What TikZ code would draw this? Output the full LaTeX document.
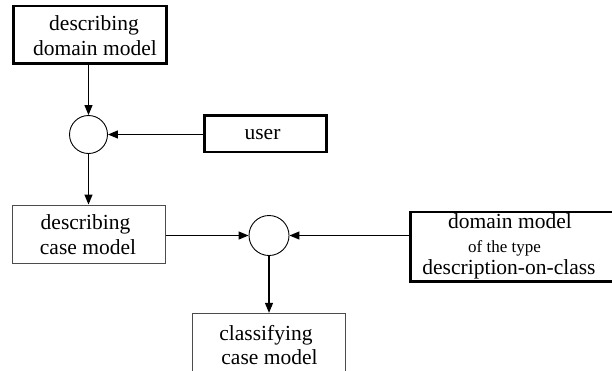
\documentclass[tikz,border=0pt]{standalone}
\usepackage{fontspec}
\setmainfont{Liberation Serif}
\usetikzlibrary{arrows.meta}
\begin{document}
\begin{tikzpicture}[x=1pt,y=-1pt,
  boxthick/.style={draw, line width=2.6pt, inner sep=0pt},
  boxthin/.style={draw=black!70, line width=0.9pt, inner sep=0pt},
  junction/.style={draw, circle, line width=0.9pt, inner sep=0pt},
  lbl/.style={anchor=base, inner sep=0pt, font=\fontsize{21.5}{25}\selectfont},
  lblsmall/.style={anchor=base, inner sep=0pt, font=\fontsize{17}{19}\selectfont},
  flow/.style={line width=1.2pt, -{Triangle[length=10pt,width=8pt]}}]
\useasboundingbox (0,0) rectangle (612,370);
\clip (0,0) rectangle (612,370);

% boxes
\node[boxthick, minimum width=153pt, minimum height=57.5pt] (topbox) at (90,34.75) {};
\node[boxthick, minimum width=122pt, minimum height=36.5pt] (userbox) at (265.5,133.75) {};
\node[boxthin, minimum width=153.4pt, minimum height=58pt] (casebox) at (89,234) {};
\node[boxthick, minimum width=230pt, minimum height=69.3pt] (dombox) at (525.5,246.7) {};
\node[boxthin, minimum width=153.4pt, minimum height=80pt] (classbox) at (269,353.3) {};

% junctions
\node[junction, minimum size=38pt] (c1) at (88.5,134.5) {};
\node[junction, minimum size=40pt] (c2) at (269,235.5) {};

% labels
\node[lbl] (t1a) at (94,30) {describing};
\node[lbl] (t1b) at (95,55) {domain model};
\node[lbl] (tu) at (262.5,139) {user};
\node[lbl] (t2a) at (85.5,229) {describing};
\node[lbl] (t2b) at (88,254) {case model};
\node[lbl] (t3a) at (510,228.5) {domain model};
\node[lblsmall] (t3b) at (504.5,252) {of the type};
\node[lbl] (t3c) at (509,274) {description-on-class};
\node[lbl] (t4a) at (266,340) {classifying};
\node[lbl] (t4b) at (269.5,364) {case model};

% connectors
\draw[flow] (c1 |- topbox.south) -- (c1.north);
\draw[flow] (userbox.west |- c1) -- (c1.east);
\draw[flow] (c1.south) -- (c1 |- casebox.north);
\draw[flow] (casebox.east |- c2) -- (c2.west);
\draw[flow] (dombox.west |- c2) -- (c2.east);
\draw[flow] (c2.south) -- (c2 |- classbox.north);
\end{tikzpicture}
\end{document}
